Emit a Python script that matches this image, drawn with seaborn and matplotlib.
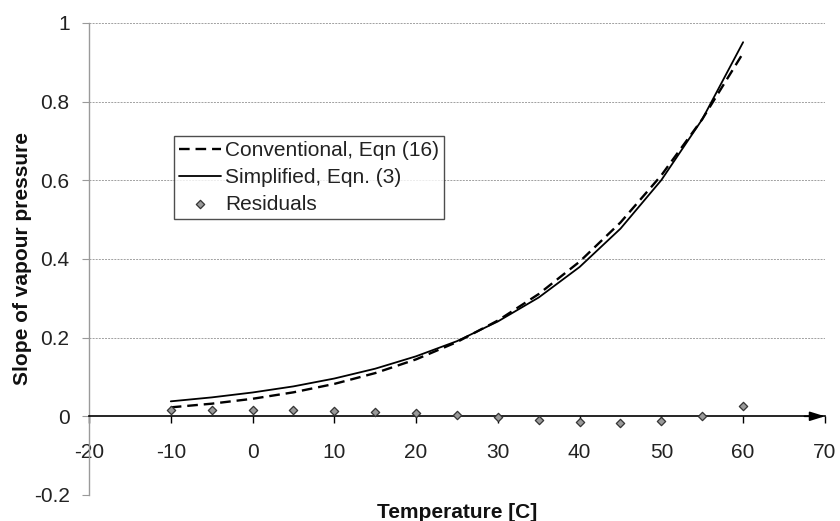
import matplotlib
matplotlib.use("Agg")
import matplotlib.pyplot as plt
import seaborn as sns
import pandas as pd

# Temperature points (deg C)
temperature = [-10, -5, 0, 5, 10, 15, 20, 25, 30, 35, 40, 45, 50, 55, 60]

# Slope of saturation vapour pressure curve, conventional formula (kPa/C)
conventional = [0.0227, 0.0320, 0.0445, 0.0609, 0.0823, 0.1098, 0.1447,
                0.1887, 0.2434, 0.3108, 0.3931, 0.4927, 0.6126, 0.7552, 0.9235]

# Slope from the simplified equation (kPa/C)
simplified = [0.0380, 0.0480, 0.0605, 0.0760, 0.0960, 0.1210, 0.1525,
              0.1910, 0.2410, 0.3020, 0.3795, 0.4770, 0.6005, 0.7550, 0.9510]

# Difference simplified minus conventional
residuals = [0.015, 0.016, 0.016, 0.015, 0.0136, 0.011, 0.0076,
             0.0025, -0.0025, -0.009, -0.0136, -0.016, -0.012, 0.0, 0.026]

x_ticks = [-20, -10, 0, 10, 20, 30, 40, 50, 60, 70]
y_ticks = [-0.2, 0, 0.2, 0.4, 0.6, 0.8, 1.0]
y_tick_labels = ["-0.2", "0", "0.2", "0.4", "0.6", "0.8", "1"]

df = pd.DataFrame({
    "T": temperature,
    "conv": conventional,
    "simp": simplified,
    "res": residuals,
})

sns.set_style("white")
plt.rcParams["font.family"] = ["Liberation Sans", "DejaVu Sans"]

fig = plt.figure(figsize=(8.4, 5.21), dpi=100)
ax = fig.add_axes([0.106, 0.050, 0.876, 0.906])

# Dotted horizontal gridlines
for yv in y_ticks:
    if yv != 0:
        ax.axhline(yv, color="#a0a0a0", lw=0.7, ls=(0, (2, 1.2)), zorder=0)

sns.lineplot(data=df, x="T", y="conv", ax=ax, color="black", lw=1.7,
             linestyle=(0, (4.5, 2.5)), label="Conventional, Eqn (16)",
             zorder=3)
sns.lineplot(data=df, x="T", y="simp", ax=ax, color="black", lw=1.3,
             label="Simplified, Eqn. (3)", zorder=3)
sns.scatterplot(data=df, x="T", y="res", ax=ax, marker="D", s=18,
                color="#9a9a9a", edgecolor="#333333", linewidth=0.9,
                label="Residuals", zorder=4)

ax.set_xlim(-20, 70)
ax.set_ylim(-0.2, 1.0)

# Axes styling: grey left axis, x-axis drawn through zero
for side in ("top", "right"):
    ax.spines[side].set_visible(False)
ax.spines["left"].set_color("#9a9a9a")
ax.spines["left"].set_linewidth(1.0)
ax.spines["bottom"].set_position(("data", 0))
ax.spines["bottom"].set_color("black")
ax.spines["bottom"].set_linewidth(1.2)

ax.set_xticks(x_ticks)
ax.set_xticklabels([str(v) for v in x_ticks])
ax.set_yticks(y_ticks)
ax.set_yticklabels(y_tick_labels)
ax.tick_params(axis="x", direction="out", length=5, width=1.0, color="black",
               pad=14, labelsize=15, labelcolor="#222222", bottom=True)
ax.tick_params(axis="y", direction="out", length=5, width=0.8, color="#9a9a9a",
               pad=9, labelsize=15, labelcolor="#222222", left=True)

# Arrow head at the end of the x-axis
ax.annotate("", xy=(70, 0), xytext=(67.5, 0),
            arrowprops=dict(arrowstyle="-|>,head_length=0.9,head_width=0.28",
                            color="black", lw=1.2, shrinkA=0, shrinkB=0),
            zorder=5)

ax.set_xlabel("Temperature [C]", fontsize=15, fontweight="bold",
              color="#111111")
ax.set_ylabel("Slope of vapour pressure", fontsize=15, fontweight="bold",
              color="#111111")
ax.xaxis.set_label_coords(0.5, -0.016)
ax.yaxis.set_label_coords(-0.0775, 0.5)

leg = ax.legend(loc="upper left", bbox_to_anchor=(0.1155, 0.761),
                frameon=True, fontsize=15, handlelength=2.0,
                handletextpad=0.2, borderpad=0.25, labelspacing=0.38,
                borderaxespad=0, fancybox=False)
leg.get_frame().set_edgecolor("#222222")
leg.get_frame().set_linewidth(1.0)
for t in leg.get_texts():
    t.set_color("#222222")

fig.savefig("out.png", dpi=100)
